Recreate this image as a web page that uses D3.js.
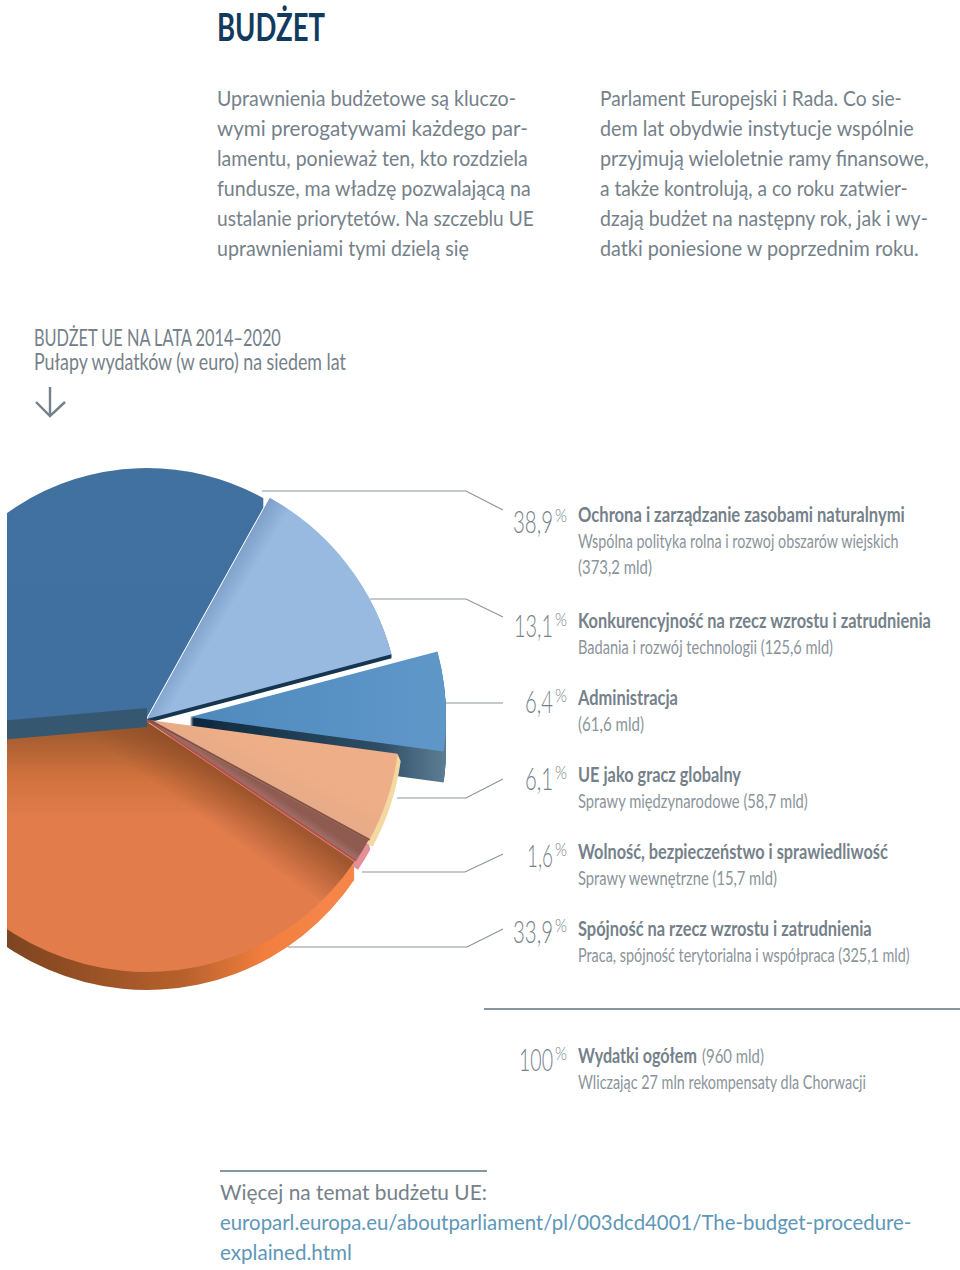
<!DOCTYPE html>
<html>
<head>
<meta charset="utf-8">
<script src="https://cdn.jsdelivr.net/npm/d3@7"></script>
<style>
html, body { margin: 0; padding: 0; background: #fff; }
svg { display: block; }
</style>
</head>
<body>
<div id="chart"></div>
<script>
// values
var shares = [38.9, 13.1, 6.4, 6.1, 1.6, 33.9];
var totalShare = 100;
var names = [
    "Ochrona i zarządzanie zasobami naturalnymi",
    "Konkurencyjność na rzecz wzrostu i zatrudnienia",
    "Administracja",
    "UE jako gracz globalny",
    "Wolność, bezpieczeństwo i sprawiedliwość",
    "Spójność na rzecz wzrostu i zatrudnienia"
];
var details = [
    ["Wspólna polityka rolna i rozwoj obszarów wiejskich", "(373,2 mld)"],
    ["Badania i rozwój technologii (125,6 mld)"],
    ["(61,6 mld)"],
    ["Sprawy międzynarodowe (58,7 mld)"],
    ["Sprawy wewnętrzne (15,7 mld)"],
    ["Praca, spójność terytorialna i współpraca (325,1 mld)"]
];
var bodyLeft = [
    "Uprawnienia budżetowe są kluczo-",
    "wymi prerogatywami każdego par-",
    "lamentu, ponieważ ten, kto rozdziela",
    "fundusze, ma władzę pozwalającą na",
    "ustalanie priorytetów. Na szczeblu UE",
    "uprawnieniami tymi dzielą się"
];
var bodyRight = [
    "Parlament Europejski i Rada. Co sie-",
    "dem lat obydwie instytucje wspólnie",
    "przyjmują wieloletnie ramy finansowe,",
    "a także kontrolują, a co roku zatwier-",
    "dzają budżet na następny rok, jak i wy-",
    "datki poniesione w poprzednim roku."
];

// layout, kept apart from the values
var nameY = [522, 628, 705, 782, 859, 936];
var percentY = [533, 637, 713, 790, 867, 943];
var nameW = [327, 353, 100, 163, 310, 294];
var detailW = [[321, 74], [255], [66], [230], [199], [332]];
var percentW = [40, 39, 28, 28, 26, 40];
var bodyLeftW = [299, 311, 311, 314, 317, 252];
var bodyRightW = [302, 314, 329, 308, 328, 319];
var sliceX = [147, 147, 190, 149, 147, 147];
var sliceY = [708, 719, 717, 720, 720, 722];
var sliceR = [240, 253, 256, 251, 252, 250];
var leaders = [
    [[262, 491], [466, 491], [503, 510]],
    [[370, 599], [466, 599], [503, 617]],
    [[445, 703], [503, 703]],
    [[397, 798], [466, 798], [503, 779]],
    [[362, 872], [465, 872], [503, 854]],
    [[288, 947], [467, 947], [503, 929]]
];

var width = 960, height = 1270;
var grey = "#75818a", greyLight = "#8a949a";
var face = "Lato, 'Open Sans', sans-serif";

var svg = d3.select("#chart").append("svg")
    .attr("width", width)
    .attr("height", height);

var defs = svg.append("defs");

// gradient coordinates are given on the page and moved into the slice's own frame
function gradient(id, i, x1, y1, x2, y2, stops) {
    var g = defs.append("linearGradient")
        .attr("id", id)
        .attr("gradientUnits", "userSpaceOnUse")
        .attr("x1", x1 - sliceX[i]).attr("y1", y1 - sliceY[i])
        .attr("x2", x2 - sliceX[i]).attr("y2", y2 - sliceY[i]);
    stops.forEach(function(s) {
        g.append("stop")
            .attr("offset", s[0])
            .attr("stop-color", s[1])
            .attr("stop-opacity", s[2] === undefined ? 1 : s[2]);
    });
}

gradient("gDark", 0, 0, 470, 0, 720, [[0, "#41719f"], [1, "#3f6f9f"]]);
gradient("gLight", 1, 195, 600, 225, 618, [[0, "#4a77a6"], [0.35, "#7ea0c9"], [1, "#98b9e0"]]);
gradient("gAdmin", 2, 190, 0, 445, 0, [[0, "#4f8abd"], [1, "#5f97c9"]]);
gradient("gAdminWall", 2, 200, 0, 445, 0, [[0, "#0f2a3f"], [0.75, "#2f4f66"], [0.85, "#42637a"], [1, "#5c7d92"]]);
gradient("gPeach", 3, 250, 742, 232, 778, [[0, "#eeae88"], [1, "#e5aa87"]]);
gradient("gPink", 4, 260, 785, 248, 803, [[0, "#8f5a50"], [0.6, "#a87a74"], [1, "#b98a8c"]]);
gradient("gOrange", 5, 0, 735, 0, 820, [[0, "#a65d31"], [0.5, "#d0723e"], [1, "#e27c4c"]]);
gradient("gOrangeShade", 5, 250, 793, 222, 832, [[0, "#8a4a24", 0.75], [1, "#8a4a24", 0]]);
gradient("gOrangeWall", 5, 7, 0, 330, 0, [[0, "#7d4420"], [0.55, "#b8612d"], [0.8, "#f27f3d"], [1, "#f5854a"]]);

defs.append("filter").attr("id", "soft")
    .append("feGaussianBlur").attr("stdDeviation", 0.6);

defs.append("clipPath").attr("id", "cut")
    .append("rect").attr("x", 7).attr("y", 440).attr("width", 500).attr("height", 560);

// squeezes a text to the width it has in the picture
function fitted(x, y, str, w, size, weight, fill) {
    var t = svg.append("text")
        .attr("font-family", face)
        .attr("font-size", size)
        .attr("font-weight", weight)
        .attr("fill", fill)
        .text(str);
    var len = t.node().getComputedTextLength();
    t.attr("transform", "translate(" + x + "," + y + ") scale(" + (w / len) + ",1)");
    return t;
}

fitted(217, 41, "BUDŻET", 108, 38, 700, "#123a5e");

function drawBody(lines, x, widths) {
    lines.forEach(function(line, i) {
        fitted(x, 106 + i * 30, line, widths[i], 20.5, 400, grey);
    });
}
drawBody(bodyLeft, 217, bodyLeftW);
drawBody(bodyRight, 600, bodyRightW);

fitted(34, 346, "BUDŻET UE NA LATA 2014–2020", 247, 23, 400, grey);
fitted(34, 370, "Pułapy wydatków (w euro) na siedem lat", 312, 23, 400, grey);

var arrow = d3.line();
svg.append("path").attr("d", arrow([[50, 387], [50, 416]]))
    .attr("fill", "none").attr("stroke", grey).attr("stroke-width", 2.4);
svg.append("path").attr("d", arrow([[36, 402], [50, 416], [65, 402]]))
    .attr("fill", "none").attr("stroke", grey).attr("stroke-width", 2.4);

// leaders go under the pie
svg.append("g").selectAll("path")
    .data(leaders)
    .enter()
    .append("path")
    .attr("d", function(d) { return d3.line()(d); })
    .attr("fill", "none")
    .attr("stroke", "#8d9599")
    .attr("stroke-width", 1.2);

// pie: the picture is a 3d pie seen at an angle, so shares are turned into
// visible angles through a small perspective scale
var deg = Math.PI / 180;
var pie = d3.pie().sort(null).startAngle(-111 * deg).endAngle(249 * deg);
var slices = pie(shares);
var perspective = d3.scaleLinear()
    .domain([-111, 29, 99, 127, 249])
    .range([-95, 29, 97.5, 124, 265]);

slices.forEach(function(d) {
    d.a0 = perspective(d.startAngle / deg) * deg;
    d.a1 = perspective(d.endAngle / deg) * deg;
});

function sector(d, r) {
    return d3.arc()({ innerRadius: 0, outerRadius: r, startAngle: d.a0, endAngle: d.a1 });
}

var pieG = svg.append("g")
    .attr("clip-path", "url(#cut)")
    .append("g")
    .attr("filter", "url(#soft)");

function slice(i, dx, dy, fill) {
    return pieG.append("path")
        .attr("transform", "translate(" + (sliceX[i] + dx) + "," + (sliceY[i] + dy) + ")")
        .attr("d", sector(slices[i], sliceR[i]))
        .attr("fill", fill);
}

// wall of a slice: the same sector pushed down a pixel at a time
function wall(i, dx, depth, fill) {
    d3.range(1, depth + 1).forEach(function(k) {
        slice(i, dx * k / depth, k, fill);
    });
}

// flat wall along one cut side of a slice
function cutWall(i, angle, depth, fill) {
    var x = sliceX[i], y = sliceY[i], r = sliceR[i];
    var ex = x + r * Math.sin(angle), ey = y - r * Math.cos(angle);
    pieG.append("path")
        .attr("d", d3.line()([[x, y], [ex, ey], [ex, ey + depth], [x, y + depth]]) + "Z")
        .attr("fill", fill);
}

wall(1, 0, 4, "#14344f");
slice(1, 0, 0, "url(#gLight)");

wall(2, 0, 31, "url(#gAdminWall)");
slice(2, 0, 0, "url(#gAdmin)");

wall(0, 0, 9, "#3f6f9f");
slice(0, 0, 0, "url(#gDark)");

wall(5, 0, 18, "url(#gOrangeWall)");
wall(4, 2, 9, "#e58f96");
wall(3, 3, 7, "#f3d8a2");

slice(5, 0, 0, "url(#gOrange)");
slice(5, 0, 0, "url(#gOrangeShade)");
slice(4, 0, 0, "url(#gPink)");
slice(3, 0, 0, "url(#gPeach)");

cutWall(0, slices[0].a0, 19, "#35586f");

function rim(i, angle, color) {
    pieG.append("path")
        .attr("d", d3.line()([[sliceX[i], sliceY[i]],
            [sliceX[i] + sliceR[i] * Math.sin(angle), sliceY[i] - sliceR[i] * Math.cos(angle)]]))
        .attr("stroke", color)
        .attr("stroke-width", 2)
        .attr("fill", "none");
}
rim(4, slices[4].a1, "#b4504a");
rim(3, slices[3].a1, "#7f5148");

// legend rows
function percentLabel(value, y, w) {
    fitted(553 - w, y, String(value).replace(".", ","), w, 32, 300, grey);
    fitted(555, y - 11, "%", 12, 17, 300, grey);
}

shares.forEach(function(v, i) {
    percentLabel(v, percentY[i], percentW[i]);
    fitted(578, nameY[i], names[i], nameW[i], 20, 700, grey);
    details[i].forEach(function(line, j) {
        fitted(578, nameY[i] + 26 * (j + 1), line, detailW[i][j], 20, 400, greyLight);
    });
});

// total row
svg.append("line")
    .attr("x1", 484).attr("x2", 960).attr("y1", 1009).attr("y2", 1009)
    .attr("stroke", "#5f7480").attr("stroke-width", 1.4);
percentLabel(totalShare, 1071, 34);
fitted(578, 1063, "Wydatki ogółem", 119, 20, 700, grey);
fitted(702, 1063, "(960 mld)", 62, 20, 400, greyLight);
fitted(578, 1089, "Wliczając 27 mln rekompensaty dla Chorwacji", 288, 20, 400, greyLight);

// footer
svg.append("line")
    .attr("x1", 220).attr("x2", 487).attr("y1", 1171).attr("y2", 1171)
    .attr("stroke", "#5f7480").attr("stroke-width", 1.4);
fitted(220, 1200, "Więcej na temat budżetu UE:", 267, 22, 400, grey);
fitted(220, 1230, "europarl.europa.eu/aboutparliament/pl/003dcd4001/The-budget-procedure-", 692, 22, 400, "#5e97b8");
fitted(220, 1260, "explained.html", 132, 22, 400, "#5e97b8");
</script>
</body>
</html>
